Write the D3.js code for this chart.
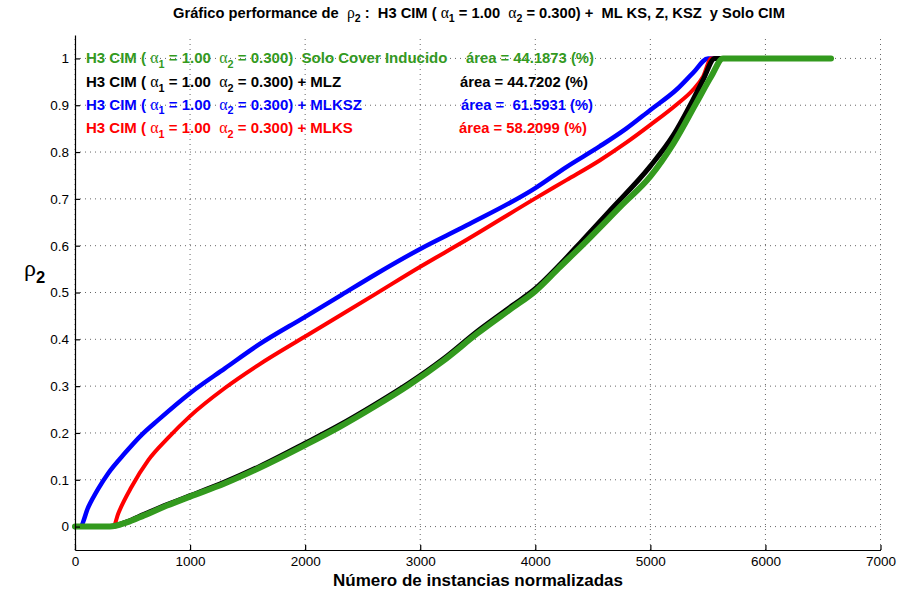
<!DOCTYPE html>
<html>
<head>
<meta charset="utf-8">
<script src="https://cdn.jsdelivr.net/npm/d3@7"></script>
<style>
  body { margin: 0; background: #fff; }
  svg text { font-family: "Liberation Sans", Arial, sans-serif; white-space: pre; }
</style>
</head>
<body>
<svg id="chart" width="900" height="589"></svg>
<script>
// tick values
var xTicks = [0, 1000, 2000, 3000, 4000, 5000, 6000, 7000];
var yTicks = [0, 0.1, 0.2, 0.3, 0.4, 0.5, 0.6, 0.7, 0.8, 0.9, 1];

// H3 CIM solo cover inducido (green)
var soloX = [0, 304, 450, 600, 800, 1000, 1300, 1600, 2000, 2300, 2600, 2900, 3200, 3500, 3800, 4000, 4200, 4450, 4750, 5000, 5200, 5400, 5530, 5632, 6570];
var soloY = [0, 0, 0.009, 0.024, 0.045, 0.064, 0.092, 0.125, 0.174, 0.213, 0.256, 0.302, 0.354, 0.413, 0.467, 0.503, 0.551, 0.611, 0.686, 0.748, 0.818, 0.905, 0.962, 1, 1];

// + MLZ (black)
var mlzX = [0, 304, 450, 600, 800, 1000, 1300, 1600, 2000, 2300, 2600, 2900, 3200, 3500, 3800, 4000, 4200, 4416, 4648, 5000, 5197, 5371, 5458, 5560, 5632];
var mlzY = [0, 0, 0.01, 0.026, 0.047, 0.066, 0.095, 0.128, 0.178, 0.217, 0.26, 0.306, 0.358, 0.418, 0.472, 0.508, 0.556, 0.613, 0.675, 0.77, 0.835, 0.912, 0.954, 1, 1];

// + MLKSZ (blue)
var mlkszX = [0, 43, 116, 200, 289, 434, 579, 724, 1000, 1303, 1593, 2000, 2317, 2606, 3000, 3400, 4000, 4270, 4559, 4790, 5000, 5226, 5371, 5502, 5620];
var mlkszY = [0, 0, 0.042, 0.08, 0.114, 0.157, 0.196, 0.228, 0.285, 0.338, 0.388, 0.448, 0.495, 0.538, 0.593, 0.643, 0.723, 0.768, 0.812, 0.85, 0.89, 0.933, 0.969, 1, 1];

// + MLKS (red)
var mlksX = [0, 333, 376, 492, 637, 811, 1000, 1303, 1593, 2000, 2317, 2606, 3000, 3400, 4000, 4270, 4559, 4790, 5000, 5226, 5371, 5458, 5530, 5620];
var mlksY = [0, 0, 0.028, 0.085, 0.142, 0.19, 0.236, 0.296, 0.345, 0.406, 0.453, 0.496, 0.555, 0.612, 0.701, 0.74, 0.782, 0.82, 0.858, 0.901, 0.933, 0.961, 1, 1];

var legendSuffix = ["  Solo Cover Inducido", " + MLZ", " + MLKSZ", " + MLKS"];
var areaLabels = ["área = 44.1873 (%)", "área = 44.7202 (%)", "área =  61.5931 (%)", "área = 58.2099 (%)"];

var green = "#339a1e";
var svg = d3.select("#chart");

var x = d3.scaleLinear().domain([0, 7000]).range([75, 880.5]);
var y = d3.scaleLinear().domain([-0.05, 1.05]).range([550, 35]);

// rich text helper: segments of plain / greek / subscript
function rich(sel, parts, size) {
  parts.forEach(function (p) {
    var t = sel.append("tspan").text(p.t);
    if (p.g) t.attr("font-family", "Liberation Serif, serif").attr("font-weight", "normal").attr("font-size", size + 1);
    if (p.s) t.attr("font-size", size * 0.72).attr("dy", size * 0.3);
    if (p.back) t.attr("dy", -size * 0.3);
  });
}
function cimParts(extra) {
  return [
    { t: "H3 CIM ( " }, { t: "α", g: true }, { t: "1", s: true },
    { t: " = 1.00  ", back: true }, { t: "α", g: true }, { t: "2", s: true },
    { t: " = 0.300)" + extra, back: true }
  ];
}

// legend text (drawn under the grid like the original)
var rows = [
  { c: green, y: 63, ax: 466 },
  { c: "#000", y: 87, ax: 460 },
  { c: "#0000ff", y: 109.5, ax: 461 },
  { c: "#ff0000", y: 133, ax: 459 }
];
rows.forEach(function (r, i) {
  var t = svg.append("text").attr("x", 86).attr("y", r.y).attr("fill", r.c)
    .attr("font-size", 15).attr("font-weight", "bold");
  rich(t, cimParts(legendSuffix[i]), 15);
  svg.append("text").attr("x", r.ax).attr("y", r.y).attr("fill", r.c)
    .attr("font-size", 14.8).attr("font-weight", "bold").text(areaLabels[i]);
});

// grid
var grid = svg.append("g").attr("stroke", "#666").attr("stroke-width", 1).attr("stroke-dasharray", "1,4");
grid.selectAll(".gx").data(xTicks).enter().append("line")
  .attr("x1", function (d) { return x(d); }).attr("x2", function (d) { return x(d); })
  .attr("y1", y(-0.05)).attr("y2", y(1.05));
grid.selectAll(".gy").data(yTicks).enter().append("line")
  .attr("x1", x(0)).attr("x2", x(7000))
  .attr("y1", function (d) { return y(d); }).attr("y2", function (d) { return y(d); });

// curves
var line = d3.line().x(function (d) { return x(d[0]); }).y(function (d) { return y(d[1]); })
  .curve(d3.curveMonotoneX);
function pairs(xs, ys) { return xs.map(function (v, i) { return [v, ys[i]]; }); }

[
  { xs: mlkszX, ys: mlkszY, c: "#0000ff", w: 4.5 },
  { xs: mlksX, ys: mlksY, c: "#ff0000", w: 4 },
  { xs: mlzX, ys: mlzY, c: "#000", w: 5 },
  { xs: soloX, ys: soloY, c: green, w: 6 }
].forEach(function (s) {
  svg.append("path").datum(pairs(s.xs, s.ys)).attr("d", line)
    .attr("fill", "none").attr("stroke", s.c).attr("stroke-width", s.w)
    .attr("stroke-linejoin", "round").attr("stroke-linecap", "round");
});

// axes
var xAxis = svg.append("g").attr("transform", "translate(0," + y(-0.05) + ")")
  .call(d3.axisBottom(x).tickValues(xTicks).tickSizeInner(-5).tickSizeOuter(0).tickPadding(6).tickFormat(d3.format("d")));
var yAxis = svg.append("g").attr("transform", "translate(" + x(0) + ",0)")
  .call(d3.axisLeft(y).tickValues(yTicks).tickSizeInner(-5).tickSizeOuter(0).tickPadding(6)
    .tickFormat(function (d) { return d === 0 || d === 1 ? String(d) : d3.format(".1f")(d); }));
[xAxis, yAxis].forEach(function (a) {
  a.selectAll("text").attr("font-size", 13.5).attr("fill", "#000")
    .attr("font-family", "Liberation Sans, Arial, sans-serif");
  a.select(".domain").attr("stroke", "#000").attr("stroke-width", 1.2);
  a.selectAll(".tick line").attr("stroke", "#000").attr("stroke-width", 1.2);
});

// axis labels
svg.append("text").attr("x", 478).attr("y", 586).attr("text-anchor", "middle")
  .attr("font-size", 17).attr("font-weight", "bold").text("Número de instancias normalizadas");
var yl = svg.append("text").attr("x", 24).attr("y", 276).attr("font-size", 23);
rich(yl, [{ t: "ρ", g: true }, { t: "2", s: true }], 23);
yl.selectAll("tspan").filter(function (d, i) { return i === 1; }).attr("font-weight", "bold");

// title
var title = svg.append("text").attr("x", 479).attr("y", 18).attr("text-anchor", "middle")
  .attr("font-size", 14.7).attr("font-weight", "bold");
rich(title, [
  { t: "Gráfico performance de  " }, { t: "ρ", g: true }, { t: "2", s: true },
  { t: " :  H3 CIM ( ", back: true }, { t: "α", g: true }, { t: "1", s: true },
  { t: " = 1.00  ", back: true }, { t: "α", g: true }, { t: "2", s: true },
  { t: " = 0.300) +  ML KS, Z, KSZ  y Solo CIM", back: true }
], 14.7);
</script>
</body>
</html>
